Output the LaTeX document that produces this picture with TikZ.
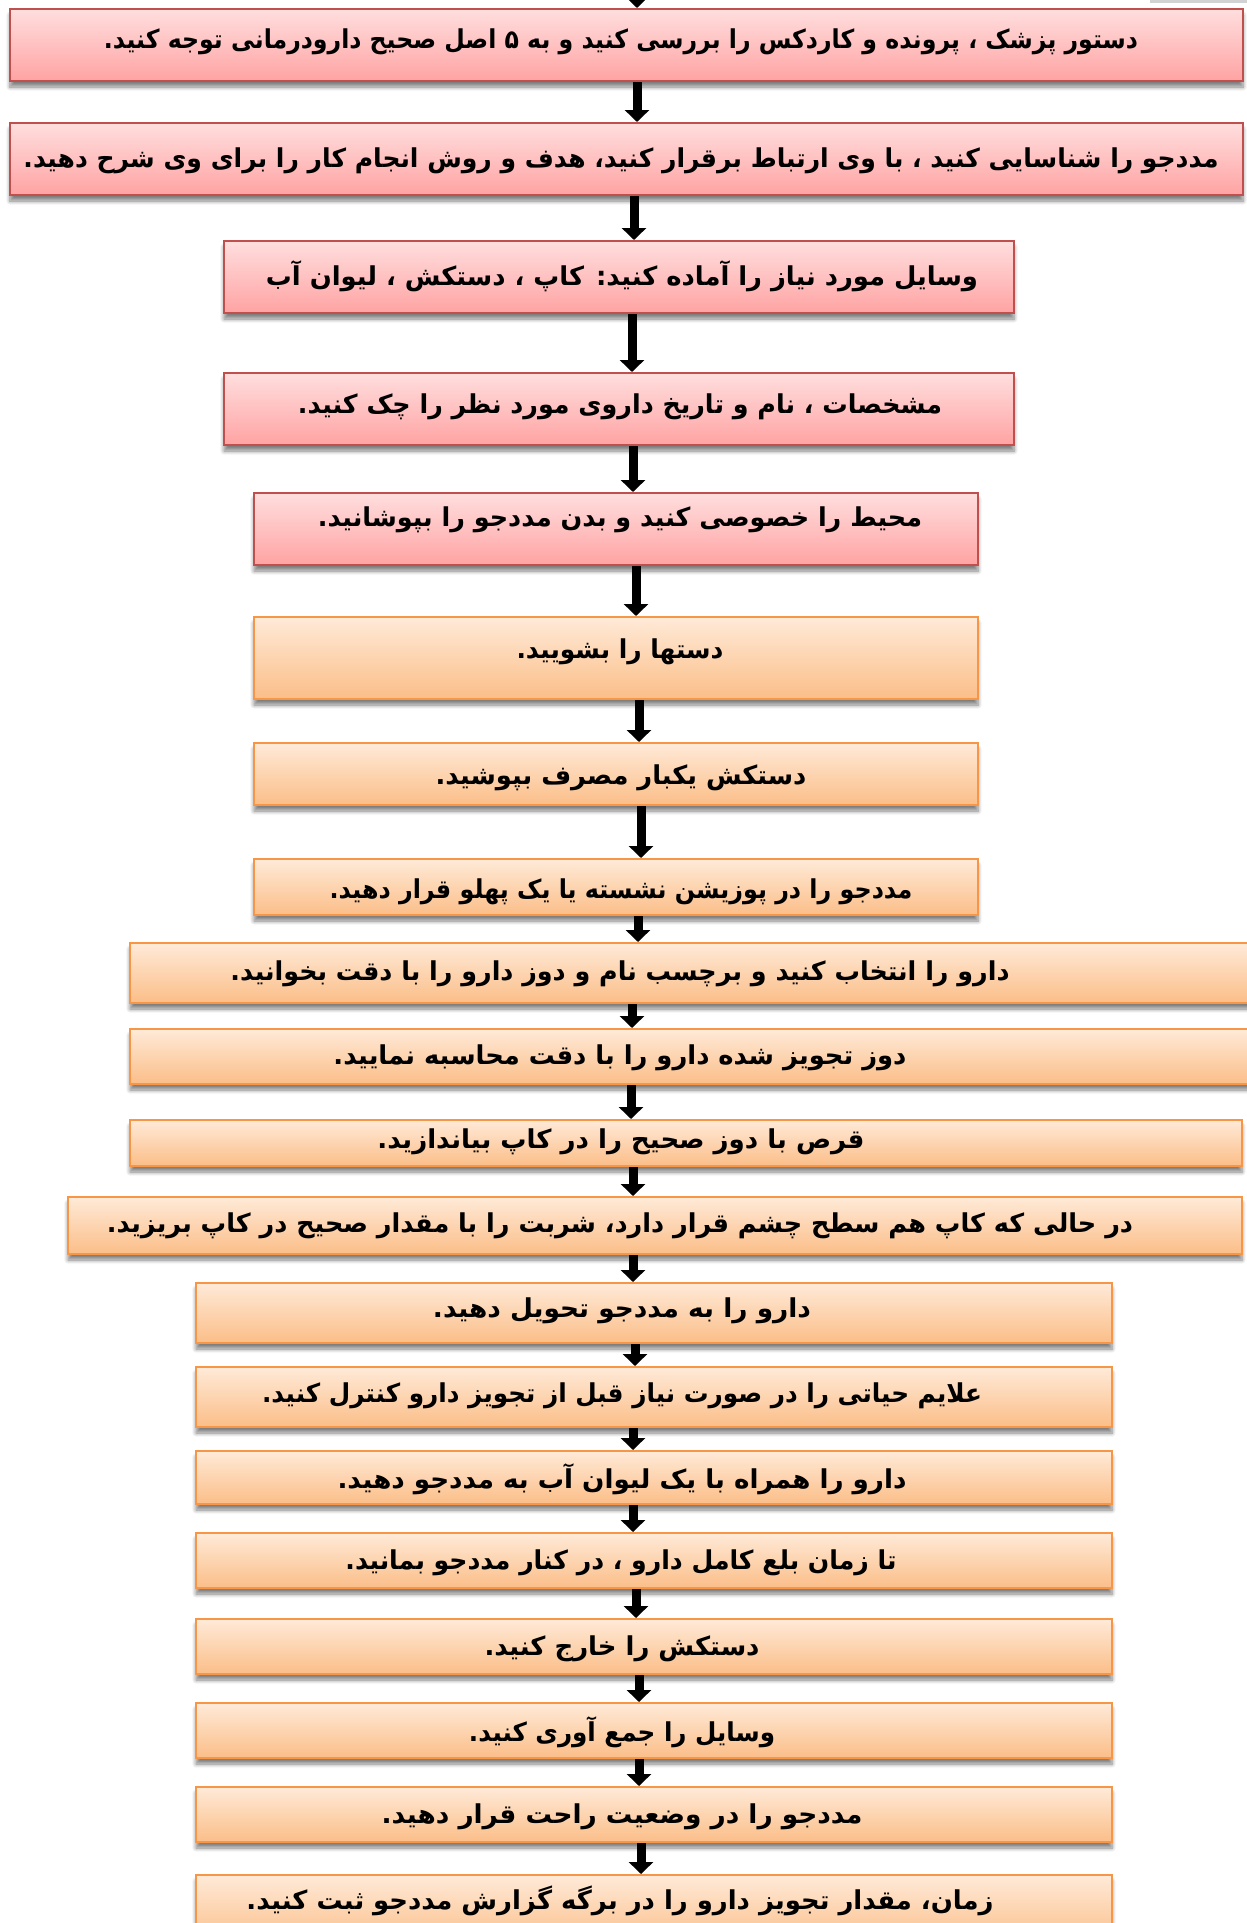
\documentclass[tikz,border=0pt]{standalone}
\usepackage{fontspec}
\usepackage{graphicx}
\usetikzlibrary{arrows.meta,shadows.blur}
\TeXXeTstate=1
\newfontfamily\fa[Script=Arabic]{DejaVu Sans}
\definecolor{redtop}{HTML}{FFDEDE}
\definecolor{redbot}{HTML}{FFA3A3}
\definecolor{redline}{HTML}{C0504D}
\definecolor{ortop}{HTML}{FFEAD8}
\definecolor{orbot}{HTML}{FBBE88}
\definecolor{orline}{HTML}{F79646}
\newcommand\tw[2]{\resizebox{#1pt}{\height}{#2}}
\tikzset{
  boxbase/.style={rectangle, inner sep=0pt, line width=2pt,
    blur shadow={shadow xshift=0pt, shadow yshift=-6pt, shadow blur steps=6, shadow blur radius=4pt, shadow opacity=50}},
  redbox/.style={boxbase, draw=redline, top color=redtop, bottom color=redbot},
  orbox/.style={boxbase, draw=orline, top color=ortop, bottom color=orbot},
  txt/.style={inner sep=0pt, font=\fa\bfseries\fontsize{26}{30}\selectfont},
  arr/.style={line width=9pt, -{Triangle[width=24pt,length=12pt]}, black}
}
\newcommand\bx[6]{% style, name, x1, y1, x2, y2
  \node[#1, minimum width={(#5-#3)*1pt}, minimum height={(#6-#4)*1pt}] (#2) at ({(#3+#5)/2},{(#4+#6)/2}) {};}
\begin{document}
\begin{tikzpicture}[x=1pt,y=-1pt]
\useasboundingbox (0,0) rectangle (1247,1923);
\fill[gray!35] (1150,0) rectangle (1247,3);
% boxes
\bx{redbox}{b1}{10}{9}{1243}{81}
\bx{redbox}{b2}{10}{123}{1243}{195}
\bx{redbox}{b3}{224}{241}{1014}{313}
\bx{redbox}{b4}{224}{373}{1014}{445}
\bx{redbox}{b5}{254}{493}{978}{565}
\bx{orbox}{b6}{254}{617}{978}{699}
\bx{orbox}{b7}{254}{743}{978}{805}
\bx{orbox}{b8}{254}{859}{978}{915}
\bx{orbox}{b9}{130}{943}{1262}{1003}
\bx{orbox}{b10}{130}{1029}{1262}{1084}
\bx{orbox}{b11}{130}{1120}{1242}{1166}
\bx{orbox}{b12}{68}{1197}{1242}{1254}
\bx{orbox}{b13}{196}{1283}{1112}{1343}
\bx{orbox}{b14}{196}{1367}{1112}{1427}
\bx{orbox}{b15}{196}{1451}{1112}{1504}
\bx{orbox}{b16}{196}{1533}{1112}{1588}
\bx{orbox}{b17}{196}{1619}{1112}{1674}
\bx{orbox}{b18}{196}{1703}{1112}{1758}
\bx{orbox}{b19}{196}{1787}{1112}{1842}
\bx{orbox}{b20}{196}{1875}{1112}{1945}
% texts
\node[txt] (t1) at (621,42) {\tw{1034}{\beginR دستور پزشک ، پرونده و کاردکس را بررسی کنید و به ۵ اصل صحیح دارودرمانی توجه کنید.\endR}};
\node[txt] (t2) at (621,161) {\tw{1195}{\beginR مددجو را شناسایی کنید ، با وی ارتباط برقرار کنید، هدف و روش انجام کار را برای وی شرح دهید.\endR}};
\node[txt] (t3) at (622,276) {\tw{712}{\beginR وسایل مورد نیاز را آماده کنید: کاپ ، دستکش ، لیوان  آب\endR}};
\node[txt] (t4) at (620,407) {\tw{644}{\beginR مشخصات ، نام و تاریخ داروی مورد نظر را چک کنید.\endR}};
\node[txt] (t5) at (620,520) {\tw{604}{\beginR محیط را خصوصی کنید و بدن مددجو را بپوشانید.\endR}};
\node[txt] (t6) at (620,652) {\tw{207}{\beginR دستها را بشویید.\endR}};
\node[txt] (t7) at (621,778) {\tw{371}{\beginR دستکش یکبار مصرف بپوشید.\endR}};
\node[txt] (t8) at (621,892) {\tw{583}{\beginR مددجو  را در پوزیشن نشسته یا یک پهلو قرار دهید.\endR}};
\node[txt] (t9) at (620,974) {\tw{779}{\beginR دارو را انتخاب کنید و برچسب نام و دوز دارو را با دقت بخوانید.\endR}};
\node[txt] (t10) at (620,1058) {\tw{573}{\beginR دوز تجویز شده دارو را با دقت محاسبه نمایید.\endR}};
\node[txt] (t11) at (621,1142) {\tw{487}{\beginR قرص با دوز صحیح را در کاپ بیاندازید.\endR}};
\node[txt] (t12) at (620,1226) {\tw{1026}{\beginR در حالی که کاپ هم سطح چشم قرار دارد، شربت را با مقدار صحیح در کاپ بریزید.\endR}};
\node[txt] (t13) at (622,1311) {\tw{378}{\beginR دارو را به مددجو تحویل دهید.\endR}};
\node[txt] (t14) at (622,1396) {\tw{720}{\beginR علایم حیاتی را در صورت نیاز قبل از تجویز دارو کنترل کنید.\endR}};
\node[txt] (t15) at (622,1479) {\tw{569}{\beginR دارو را همراه با یک لیوان آب به مددجو دهید.\endR}};
\node[txt] (t16) at (621,1563) {\tw{551}{\beginR تا زمان بلع کامل دارو ، در کنار مددجو بمانید.\endR}};
\node[txt] (t17) at (622,1649) {\tw{275}{\beginR دستکش را خارج کنید.\endR}};
\node[txt] (t18) at (622,1732) {\tw{306}{\beginR وسایل را جمع آوری کنید.\endR}};
\node[txt] (t19) at (622,1817) {\tw{481}{\beginR مددجو را در وضعیت راحت قرار دهید.\endR}};
\node[txt] (t20) at (620,1901) {\tw{747}{\beginR زمان، مقدار تجویز دارو را در برگه گزارش مددجو ثبت کنید.\endR}};
% arrows
\coordinate (top) at (637,-20);
\draw[arr] (top) -- (b1.north -| top);
\draw[arr] (b1.south -| 637,0) -- (b2.north -| 637,0);
\draw[arr] (b2.south -| 634,0) -- (b3.north -| 634,0);
\draw[arr] (b3.south -| 632,0) -- (b4.north -| 632,0);
\draw[arr] (b4.south -| 633,0) -- (b5.north -| 633,0);
\draw[arr] (b5.south -| 636,0) -- (b6.north -| 636,0);
\draw[arr] (b6.south -| 639,0) -- (b7.north -| 639,0);
\draw[arr] (b7.south -| 641,0) -- (b8.north -| 641,0);
\draw[arr] (b8.south -| 638,0) -- (b9.north -| 638,0);
\draw[arr] (b9.south -| 632,0) -- (b10.north -| 632,0);
\draw[arr] (b10.south -| 631,0) -- (b11.north -| 631,0);
\draw[arr] (b11.south -| 633,0) -- (b12.north -| 633,0);
\draw[arr] (b12.south -| 633,0) -- (b13.north -| 633,0);
\draw[arr] (b13.south -| 635,0) -- (b14.north -| 635,0);
\draw[arr] (b14.south -| 633,0) -- (b15.north -| 633,0);
\draw[arr] (b15.south -| 633,0) -- (b16.north -| 633,0);
\draw[arr] (b16.south -| 636,0) -- (b17.north -| 636,0);
\draw[arr] (b17.south -| 639,0) -- (b18.north -| 639,0);
\draw[arr] (b18.south -| 639,0) -- (b19.north -| 639,0);
\draw[arr] (b19.south -| 641,0) -- (b20.north -| 641,0);
\end{tikzpicture}
\end{document}
